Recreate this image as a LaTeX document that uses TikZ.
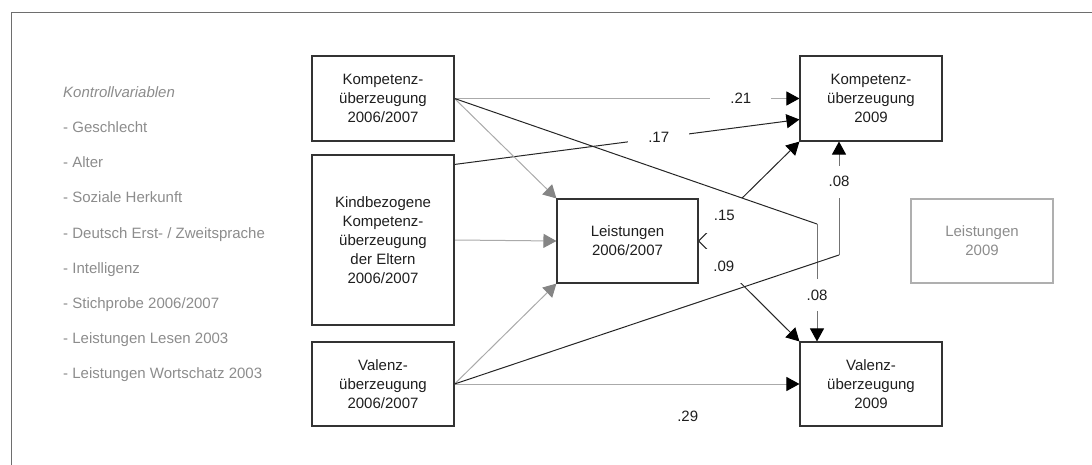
\documentclass[tikz,border=0pt]{standalone}
\usepackage{fontspec}
\setmainfont{Liberation Sans}
\usetikzlibrary{arrows.meta, positioning, backgrounds}
\definecolor{framegray}{HTML}{6E6E6E}
\definecolor{boxborder}{HTML}{333333}
\definecolor{boxtext}{HTML}{1E1E1E}
\definecolor{ctrlgray}{HTML}{8C8C8C}
\definecolor{boxgray}{HTML}{AFAFAF}
\definecolor{linegray}{HTML}{AAAAAA}
\definecolor{tipgray}{HTML}{858585}

\begin{document}
\begin{tikzpicture}[x=1pt, y=-1pt,
      varbox/.style={draw=boxborder, line width=1.1pt, minimum width=142pt, minimum height=85pt, inner sep=0pt, align=center, text=boxtext, font=\fontsize{15}{19}\selectfont},
      ctrl/.style={anchor=base west, inner sep=0pt, text=ctrlgray, font=\fontsize{15}{19}\selectfont},
      coef/.style={fill=white, inner xsep=20pt, inner ysep=11pt, text=boxtext, font=\fontsize{15}{19}\selectfont},
      plaincoef/.style={text=boxtext, font=\fontsize{15}{19}\selectfont},
      grayline/.style={draw=linegray, line width=1pt, -{Triangle[length=13pt, width=14pt, color=tipgray]}},
      grayblack/.style={draw=linegray, line width=1pt, -{Triangle[length=13pt, width=14pt, color=black]}},
      darkline/.style={draw=black!85, line width=1pt},
      darkarrow/.style={darkline, -{Triangle[length=13pt, width=14pt, color=black]}}]
      \useasboundingbox (0,0) rectangle (1092,465);

      \draw[framegray, line width=1pt] (1092,13) -- (11,13) -- (11,465);

      \node[ctrl, font=\fontsize{15}{19}\selectfont\itshape] (kontroll) at (63,98) {Kontrollvariablen};
      \node[ctrl] (geschlecht) at (63,133) {- Geschlecht};
      \node[ctrl] (alter) at (63,168) {- Alter};
      \node[ctrl] (herkunft) at (63,203) {- Soziale Herkunft};
      \node[ctrl] (sprache) at (63,238) {- Deutsch Erst- / Zweitsprache};
      \node[ctrl] (intelligenz) at (63,273) {- Intelligenz};
      \node[ctrl] (stichprobe) at (63,308) {- Stichprobe 2006/2007};
      \node[ctrl] (lesen) at (63,343) {- Leistungen Lesen 2003};
      \node[ctrl] (wortschatz) at (63,378) {- Leistungen Wortschatz 2003};

      \node[varbox] (kompA) at (383,98.5) {Kompetenz-\\überzeugung\\2006/2007};
      \node[varbox, minimum height=170pt] (eltern) at (383,240) {Kindbezogene\\Kompetenz-\\überzeugung\\der Eltern\\2006/2007};
      \node[varbox, minimum height=84pt] (valA) at (383,384) {Valenz-\\überzeugung\\2006/2007};
      \node[varbox, minimum width=141pt, minimum height=84pt] (leistA) at (627.5,241) {Leistungen\\2006/2007};
      \node[varbox] (kompB) at (871,98.5) {Kompetenz-\\überzeugung\\2009};
      \node[varbox, minimum height=84pt] (valB) at (871,384) {Valenz-\\überzeugung\\2009};
      \node[varbox, draw=boxgray, text=ctrlgray, minimum height=84pt] (leistB) at (982,241) {Leistungen\\2009};

      \coordinate (bendA) at (817,224);
      \coordinate (bendB) at (839,255);

      \begin{scope}[on background layer]
      \draw[grayblack] (kompA.east) -- node[coef, pos=0.83] {.21} (kompB.west);
      \draw[darkarrow] ([yshift=-10pt]eltern.north east) -- node[coef, pos=0.592] {.17} ([yshift=-21pt]kompB.west);
      \draw[grayline] (kompA.east) -- (leistA.north west);
      \draw[grayline] (eltern.east) -- (leistA.west);
      \draw[grayline] (valA.east) -- (leistA.south west);
      \draw[grayblack] (valA.east) -- node[plaincoef, pos=0.676, yshift=-32pt] {.29} (valB.west);
      \draw[darkarrow] (leistA.east) -- node[coef, inner xsep=9pt, inner ysep=12pt, pos=0.255] {.15} (kompB.south west);
      \draw[darkarrow] (leistA.east) -- node[coef, inner xsep=9pt, inner ysep=12pt, pos=0.25] {.09} (valB.north west);
      \draw[darkline] (kompA.east) -- (bendA);
      \draw[darkarrow, draw=black!55] (bendA) -- node[coef, inner xsep=8pt, pos=0.606] {.08} (bendA |- valB.north);
      \draw[darkline] (valA.east) -- (bendB);
      \draw[darkarrow, draw=black!55] (bendB) -- node[coef, inner xsep=8pt, pos=0.645] {.08} (bendB |- kompB.south);
      \end{scope}
    \end{tikzpicture}
\end{document}
